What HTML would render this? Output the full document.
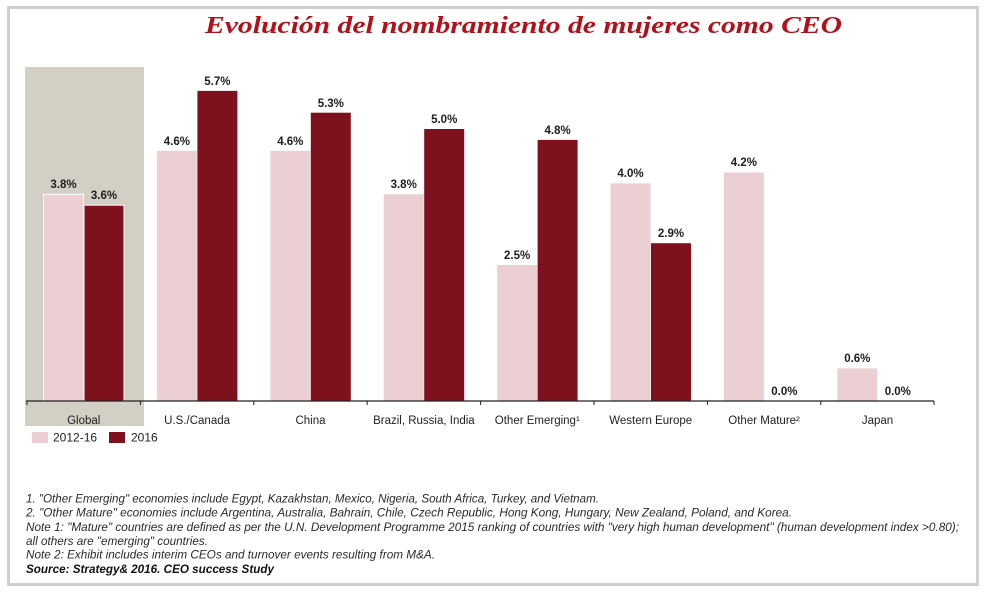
<!DOCTYPE html>
<html>
<head>
<meta charset="utf-8">
<style>
html,body{margin:0;padding:0;background:#fff;}
svg{display:block;}
</style>
</head>
<body>
<svg width="986" height="592" viewBox="0 0 986 592" xmlns="http://www.w3.org/2000/svg">
  <rect x="0" y="0" width="986" height="592" fill="#fff"/>
  <!-- frame -->
  <rect x="8.5" y="7.5" width="969" height="577" fill="none" stroke="#cfcfcf" stroke-width="3"/>

  <!-- title -->
  <text x="205" y="33" font-family="'Liberation Serif', serif" font-size="24" font-weight="bold" font-style="italic" fill="#b3101a" textLength="637" lengthAdjust="spacingAndGlyphs">Evolución del nombramiento de mujeres como CEO</text>

  <!-- global highlight -->
  <rect x="25" y="67" width="119" height="359" fill="#d3cfc4"/>

  <g font-family="'Liberation Sans', Arial, sans-serif">
  <!-- Global -->
  <rect x="43.5" y="194.3" width="40" height="206.7" fill="#ebcfd2" stroke="#fff" stroke-width="1"/>
  <rect x="84" y="205.2" width="40" height="195.8" fill="#7f111e" stroke="#fff" stroke-width="1"/>
  <!-- US -->
  <rect x="156.9" y="150.8" width="40" height="250.2" fill="#ebcfd2"/>
  <rect x="197.4" y="90.9" width="40" height="310.1" fill="#7f111e"/>
  <!-- China -->
  <rect x="270.3" y="150.8" width="40" height="250.2" fill="#ebcfd2"/>
  <rect x="310.8" y="112.7" width="40" height="288.3" fill="#7f111e"/>
  <!-- BRI -->
  <rect x="383.7" y="194.3" width="40" height="206.7" fill="#ebcfd2"/>
  <rect x="424.2" y="129" width="40" height="272" fill="#7f111e"/>
  <!-- OE -->
  <rect x="497.1" y="265" width="40" height="136" fill="#ebcfd2"/>
  <rect x="537.6" y="139.9" width="40" height="261.1" fill="#7f111e"/>
  <!-- WE -->
  <rect x="610.5" y="183.4" width="40" height="217.6" fill="#ebcfd2"/>
  <rect x="651" y="243.2" width="40" height="157.8" fill="#7f111e"/>
  <!-- OM -->
  <rect x="723.9" y="172.5" width="40" height="228.5" fill="#ebcfd2"/>
  <!-- Japan -->
  <rect x="837.3" y="368.4" width="40" height="32.6" fill="#ebcfd2"/>

  <!-- axis -->
  <line x1="26" y1="401" x2="934" y2="401" stroke="#222" stroke-width="1.3"/>
  <g stroke="#222" stroke-width="1">
    <line x1="27" y1="401" x2="27" y2="405"/>
    <line x1="140.4" y1="401" x2="140.4" y2="405"/>
    <line x1="253.8" y1="401" x2="253.8" y2="405"/>
    <line x1="367.2" y1="401" x2="367.2" y2="405"/>
    <line x1="480.6" y1="401" x2="480.6" y2="405"/>
    <line x1="594" y1="401" x2="594" y2="405"/>
    <line x1="707.4" y1="401" x2="707.4" y2="405"/>
    <line x1="820.8" y1="401" x2="820.8" y2="405"/>
    <line x1="934" y1="401" x2="934" y2="405"/>
  </g>

  <!-- value labels -->
  <g font-size="11.5" font-weight="bold" fill="#1e1e1e" text-anchor="middle">
    <text x="63.5" y="188">3.8%</text>
    <text x="104" y="199">3.6%</text>
    <text x="176.9" y="145">4.6%</text>
    <text x="217.4" y="85">5.7%</text>
    <text x="290.3" y="145">4.6%</text>
    <text x="330.8" y="107">5.3%</text>
    <text x="403.7" y="188">3.8%</text>
    <text x="444.2" y="123">5.0%</text>
    <text x="517.1" y="259">2.5%</text>
    <text x="557.6" y="134">4.8%</text>
    <text x="630.5" y="177">4.0%</text>
    <text x="671" y="237">2.9%</text>
    <text x="743.9" y="166">4.2%</text>
    <text x="784.4" y="395">0.0%</text>
    <text x="857.3" y="362">0.6%</text>
    <text x="897.8" y="395">0.0%</text>
  </g>

  <!-- category labels -->
  <g font-size="11.5" fill="#222" text-anchor="middle">
    <text x="83.7" y="424">Global</text>
    <text x="197.1" y="424">U.S./Canada</text>
    <text x="310.5" y="424">China</text>
    <text x="423.9" y="424">Brazil, Russia, India</text>
    <text x="537.3" y="424">Other Emerging¹</text>
    <text x="650.7" y="424">Western Europe</text>
    <text x="764.1" y="424">Other Mature²</text>
    <text x="877.5" y="424">Japan</text>
  </g>

  <!-- legend -->
  <rect x="32" y="432" width="16" height="11" fill="#ebcfd2"/>
  <text x="53" y="441.5" font-size="12" fill="#222">2012-16</text>
  <rect x="109" y="432" width="16" height="11" fill="#7f111e"/>
  <text x="131" y="441.5" font-size="12" fill="#222">2016</text>

  <!-- footnotes -->
  <g font-size="11.5" font-style="italic" fill="#2a2a2a">
    <text x="26" y="502.5" textLength="573" lengthAdjust="spacingAndGlyphs">1. "Other Emerging" economies include Egypt, Kazakhstan, Mexico, Nigeria, South Africa, Turkey, and Vietnam.</text>
    <text x="26" y="516.5" textLength="766" lengthAdjust="spacingAndGlyphs">2. "Other Mature" economies include Argentina, Australia, Bahrain, Chile, Czech Republic, Hong Kong, Hungary, New Zealand, Poland, and Korea.</text>
    <text x="26" y="531" textLength="933" lengthAdjust="spacingAndGlyphs">Note 1: "Mature" countries are defined as per the U.N. Development Programme 2015 ranking of countries with "very high human development" (human development index &gt;0.80);</text>
    <text x="26" y="545" textLength="182" lengthAdjust="spacingAndGlyphs">all others are "emerging" countries.</text>
    <text x="26" y="558.5" textLength="409" lengthAdjust="spacingAndGlyphs">Note 2: Exhibit includes interim CEOs and turnover events resulting from M&amp;A.</text>
  </g>
  <text x="26" y="573" font-size="12" font-style="italic" font-weight="bold" fill="#111" textLength="248" lengthAdjust="spacingAndGlyphs">Source: Strategy&amp; 2016. CEO success Study</text>
  </g>
</svg>
</body>
</html>
